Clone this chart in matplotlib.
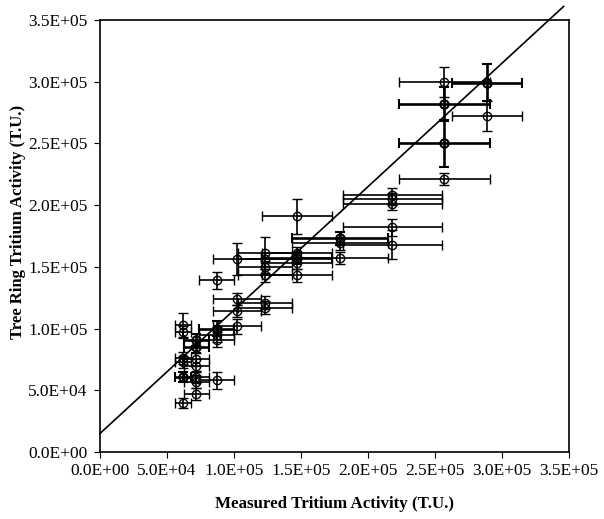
import matplotlib
matplotlib.use("Agg")
import matplotlib.pyplot as plt
from matplotlib.ticker import FuncFormatter

plt.rcParams['font.family'] = ['Liberation Serif', 'DejaVu Serif']

# measured (x) vs tree ring (y) tritium activity, with errors (regular markers)
meas_x = [62e3, 62e3, 62e3, 62e3, 62e3,
          72e3, 72e3, 72e3, 72e3, 72e3,
          87e3, 87e3, 87e3, 87e3,
          102e3, 102e3, 102e3, 102e3,
          123e3, 123e3, 123e3, 123e3, 123e3, 123e3,
          147e3, 147e3, 147e3, 147e3,
          179e3, 179e3,
          218e3, 218e3, 218e3, 218e3, 218e3,
          257e3, 257e3,
          289e3]
ring_y = [103e3, 97e3, 76e3, 73e3, 40e3,
          75e3, 70e3, 61e3, 57e3, 47e3,
          95e3, 91e3, 58e3, 139e3,
          156e3, 124e3, 114e3, 102e3,
          161e3, 156e3, 150e3, 143e3, 121e3, 117e3,
          191e3, 161e3, 153e3, 143e3,
          169e3, 157e3,
          208e3, 205e3, 201e3, 182e3, 168e3,
          300e3, 221e3,
          272e3]
meas_err = [6e3, 6e3, 6e3, 6e3, 6e3,
            9e3, 9e3, 9e3, 9e3, 9e3,
            13e3, 13e3, 13e3, 13e3,
            18e3, 18e3, 18e3, 18e3,
            20e3, 20e3, 20e3, 20e3, 20e3, 20e3,
            26e3, 26e3, 26e3, 26e3,
            36e3, 36e3,
            37e3, 37e3, 37e3, 37e3, 37e3,
            34e3, 34e3,
            26e3]
ring_err = [10e3, 5e3, 5e3, 5e3, 4e3,
            5e3, 5e3, 5e3, 5e3, 5e3,
            6e3, 6e3, 7e3, 7e3,
            13e3, 5e3, 5e3, 6e3,
            13e3, 5e3, 5e3, 5e3, 5e3, 5e3,
            14e3, 5e3, 5e3, 5e3,
            5e3, 5e3,
            6e3, 5e3, 5e3, 7e3, 12e3,
            12e3, 5e3,
            12e3]

# overlapping points drawn heavier
bold_x = [62e3, 72e3, 72e3, 87e3, 147e3, 179e3, 257e3, 257e3, 289e3]
bold_y = [61e3, 91e3, 85e3, 100e3, 157e3, 173e3, 282e3, 250e3, 299e3]
bold_xerr = [6e3, 9e3, 9e3, 13e3, 26e3, 36e3, 34e3, 34e3, 26e3]
bold_yerr = [4e3, 5e3, 5e3, 6e3, 5e3, 5e3, 14e3, 19e3, 15e3]

# fitted line end points
line_x = [0, 3.46e5]
line_y = [1.5e4, 3.61e5]

ticks = [0, 5e4, 1e5, 1.5e5, 2e5, 2.5e5, 3e5, 3.5e5]

fig = plt.figure(figsize=(6.04, 5.19), dpi=100)
ax = fig.add_axes([100/604, 1-452/519, 469/604, 432/519])

ax.errorbar(meas_x, ring_y, xerr=meas_err, yerr=ring_err, fmt='o', mfc='none',
            mec='black', color='black', ms=6, mew=1.0, elinewidth=1.2,
            capsize=3.6, capthick=1.2)
ax.errorbar(bold_x, bold_y, xerr=bold_xerr, yerr=bold_yerr, fmt='o', mfc='none',
            mec='black', color='black', ms=6, mew=1.5, elinewidth=1.9,
            capsize=3.6, capthick=1.8)
ax.plot(line_x, line_y, color='black', lw=1.2, clip_on=False)

ax.set_xlim(0, 3.5e5)
ax.set_ylim(0, 3.5e5)
ax.set_xticks(ticks)
ax.set_yticks(ticks)
fmt = FuncFormatter(lambda v, p: f"{v:.1E}")
ax.xaxis.set_major_formatter(fmt)
ax.yaxis.set_major_formatter(fmt)
ax.tick_params(axis='both', direction='out', length=4, width=0.8, labelsize=12.5)
ax.tick_params(axis='x', pad=4)
ax.tick_params(axis='y', pad=5)
for s in ax.spines.values():
    s.set_linewidth(1.2)

ax.set_xlabel("Measured Tritium Activity (T.U.)", fontsize=12.2, fontweight='bold', labelpad=12)
ax.set_ylabel("Tree Ring Tritium Activity (T.U.)", fontsize=12, fontweight='bold', labelpad=5)
ax.yaxis.set_label_coords(-0.157, 0.532)

fig.savefig("out.png", dpi=100)
